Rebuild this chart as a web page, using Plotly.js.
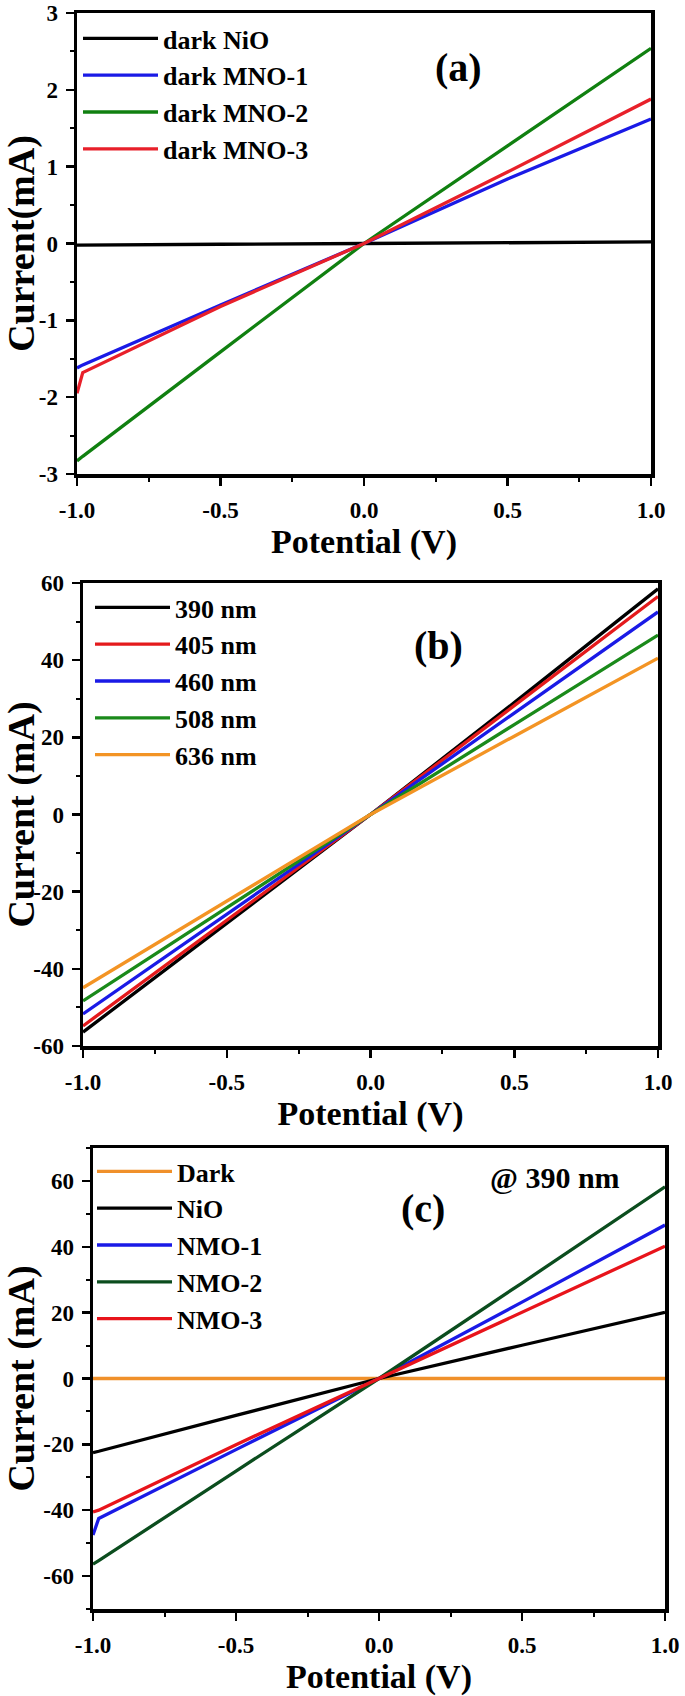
<!DOCTYPE html>
<html>
<head>
<meta charset="utf-8">
<script src="https://cdn.plot.ly/plotly-3.0.1.min.js"></script>
<style>html,body{margin:0;padding:0;background:#fff;}#chart{width:685px;height:1696px;}</style>
</head>
<body>
<div id="chart"></div>
<script>
// ---------- Data ----------
// Panel (a): dark I-V curves
const potentialA = [-1.0, -0.98, -0.5, 0.0, 0.5, 1.0];
const darkNiO   = [-0.02, -0.02, -0.01, 0.0, 0.01, 0.02];
const darkMNO1  = [-1.62, -1.58, -0.80, 0.0, 0.84, 1.62];
const darkMNO2  = [-2.83, -2.77, -1.41, 0.0, 1.27, 2.54];
const darkMNO3  = [-1.95, -1.68, -0.82, 0.0, 0.93, 1.88];
const labelsA   = ['dark NiO', 'dark MNO-1', 'dark MNO-2', 'dark MNO-3'];

// Panel (b): different wavelengths
const potentialB = [-1.0, -0.5, 0.0, 0.5, 1.0];
const nm390 = [-56.4, -28.3, 0.0, 29.0, 58.5];
const nm405 = [-54.8, -27.5, 0.0, 28.2, 56.5];
const nm460 = [-51.7, -25.9, 0.0, 26.3, 52.5];
const nm508 = [-48.3, -24.2, 0.0, 23.3, 46.5];
const nm636 = [-44.9, -22.5, 0.0, 20.3, 40.5];
const labelsB = ['390 nm', '405 nm', '460 nm', '508 nm', '636 nm'];

// Panel (c): samples @ 390 nm
const potentialC = [-1.0, -0.98, -0.5, 0.0, 0.5, 1.0];
const darkC  = [0.0, 0.0, 0.0, 0.0, 0.0, 0.0];
const nioC   = [-22.5, -22.1, -11.2, 0.0, 10.1, 20.1];
const nmo1C  = [-47.5, -42.5, -21.6, 0.0, 23.2, 46.6];
const nmo2C  = [-56.4, -55.3, -28.1, 0.0, 29.0, 58.2];
const nmo3C  = [-40.5, -40.0, -20.1, 0.0, 20.2, 40.2];
const labelsC = ['Dark', 'NiO', 'NMO-1', 'NMO-2', 'NMO-3'];

// Tick labels
const xTickVals = [-1, -0.5, 0, 0.5, 1];
const xTickText = ['-1.0', '-0.5', '0.0', '0.5', '1.0'];
const yTickValsA = [-3, -2, -1, 0, 1, 2, 3];
const yTickTextA = ['-3', '-2', '-1', '0', '1', '2', '3'];
const yTickValsB = [-60, -40, -20, 0, 20, 40, 60];
const yTickTextB = ['-60', '-40', '-20', '0', '20', '40', '60'];
const yTickValsC = [-60, -40, -20, 0, 20, 40, 60];
const yTickTextC = ['-60', '-40', '-20', '0', '20', '40', '60'];

// ---------- Styling ----------
const FONT = "'Liberation Serif', 'Times New Roman', serif";
const LW = 3.3;

function trace(x, y, name, color, xa, ya, legend) {
  return {x: x, y: y, name: name, type: 'scatter', mode: 'lines',
          line: {color: color, width: LW}, xaxis: xa, yaxis: ya, legend: legend};
}

const data = [
  trace(potentialA, darkNiO,  labelsA[0], '#000000', 'x',  'y',  'legend'),
  trace(potentialA, darkMNO1, labelsA[1], '#1a1ae6', 'x',  'y',  'legend'),
  trace(potentialA, darkMNO2, labelsA[2], '#108010', 'x',  'y',  'legend'),
  trace(potentialA, darkMNO3, labelsA[3], '#e8202a', 'x',  'y',  'legend'),

  trace(potentialB, nm390, labelsB[0], '#000000', 'x2', 'y2', 'legend2'),
  trace(potentialB, nm405, labelsB[1], '#e41a1c', 'x2', 'y2', 'legend2'),
  trace(potentialB, nm460, labelsB[2], '#1a1ae6', 'x2', 'y2', 'legend2'),
  trace(potentialB, nm508, labelsB[3], '#1a8a1a', 'x2', 'y2', 'legend2'),
  trace(potentialB, nm636, labelsB[4], '#f39424', 'x2', 'y2', 'legend2'),

  trace(potentialC, darkC, labelsC[0], '#f0902a', 'x3', 'y3', 'legend3'),
  trace(potentialC, nioC,  labelsC[1], '#000000', 'x3', 'y3', 'legend3'),
  trace(potentialC, nmo1C, labelsC[2], '#1a1ae6', 'x3', 'y3', 'legend3'),
  trace(potentialC, nmo2C, labelsC[3], '#0b4d1e', 'x3', 'y3', 'legend3'),
  trace(potentialC, nmo3C, labelsC[4], '#e8141b', 'x3', 'y3', 'legend3')
];

const W = 685, H = 1696;
function px(a, b) { return [a / W, b / W]; }
function py(top, bottom) { return [1 - bottom / H, 1 - top / H]; }

const tickFont = {family: FONT, size: 23, color: '#000', weight: 'bold'};
const xTitleFont = {family: FONT, size: 34, color: '#000', weight: 'bold'};
const yTitleFont = {family: FONT, size: 38, color: '#000', weight: 'bold'};

function xAxis(domain, anchor) {
  return {domain: domain, anchor: anchor, range: [-1, 1],
    tickmode: 'array', tickvals: xTickVals, ticktext: xTickText,
    showline: true, mirror: true, linewidth: 3.5, linecolor: '#000',
    ticks: 'outside', ticklen: 8, tickwidth: 2.5, tickcolor: '#000',
    minor: {tickmode: 'linear', tick0: 0, dtick: 0.25, ticks: 'outside', ticklen: 4, tickwidth: 2, tickcolor: '#000'},
    showgrid: false, zeroline: false, tickfont: tickFont, ticklabelstandoff: 5,
    ticklabeloverflow: 'allow', automargin: false,
    title: {text: 'Potential (V)', font: xTitleFont, standoff: 2}};
}
function yAxis(domain, anchor, range, vals, text, minor, title) {
  return {domain: domain, anchor: anchor, range: range,
    tickmode: 'array', tickvals: vals, ticktext: text,
    showline: true, mirror: true, linewidth: 3.5, linecolor: '#000',
    ticks: 'outside', ticklen: 8, tickwidth: 2.5, tickcolor: '#000',
    minor: {tickmode: 'linear', tick0: 0, dtick: minor, ticks: 'outside', ticklen: 4, tickwidth: 2, tickcolor: '#000'},
    showgrid: false, zeroline: false, tickfont: tickFont, ticklabelstandoff: 3,
    ticklabeloverflow: 'allow', automargin: false,
    title: {text: title, font: yTitleFont, standoff: 2}};
}

const legendFont = {family: FONT, size: 26, color: '#000', weight: 'bold'};
function legendAt(xpx, ypx) {
  return {x: xpx / W, y: 1 - ypx / H, xanchor: 'left', yanchor: 'top',
    bgcolor: 'rgba(0,0,0,0)', borderwidth: 0, font: legendFont, itemwidth: 75,
    tracegroupgap: 0};
}

const annFont = {family: FONT, size: 40, color: '#000', weight: 'bold'};

const layout = {
  width: W, height: H,
  margin: {l: 0, r: 0, t: 0, b: 0},
  paper_bgcolor: '#fff', plot_bgcolor: '#fff',
  showlegend: true,
  font: {family: FONT, color: '#000'},
  xaxis:  xAxis(px(77, 651), 'y'),
  yaxis:  yAxis(py(13, 474), 'x', [-3, 3], yTickValsA, yTickTextA, 0.5, 'Current(mA)'),
  xaxis2: xAxis(px(83, 658), 'y2'),
  yaxis2: yAxis(py(583, 1046), 'x2', [-60, 60], yTickValsB, yTickTextB, 10, 'Current (mA)'),
  xaxis3: xAxis(px(93, 665), 'y3'),
  yaxis3: yAxis(py(1148, 1609), 'x3', [-70, 70], yTickValsC, yTickTextC, 10, 'Current (mA)'),
  legend:  legendAt(78, 15),
  legend2: legendAt(90, 584),
  legend3: legendAt(92, 1148),
  annotations: [
    {xref: 'x', yref: 'y', x: 0.328, y: 2.29, text: '(a)', showarrow: false, font: annFont},
    {xref: 'x2', yref: 'y2', x: 0.238, y: 43.9, text: '(b)', showarrow: false, font: annFont},
    {xref: 'x3', yref: 'y3', x: 0.154, y: 51.6, text: '(c)', showarrow: false, font: annFont},
    {xref: 'x3', yref: 'y3', x: 0.615, y: 60.9, text: '@ 390 nm', showarrow: false,
     font: {family: FONT, size: 30, color: '#000', weight: 'bold'}}
  ]
};

Plotly.newPlot('chart', data, layout, {displayModeBar: false, staticPlot: true});
</script>
</body>
</html>
